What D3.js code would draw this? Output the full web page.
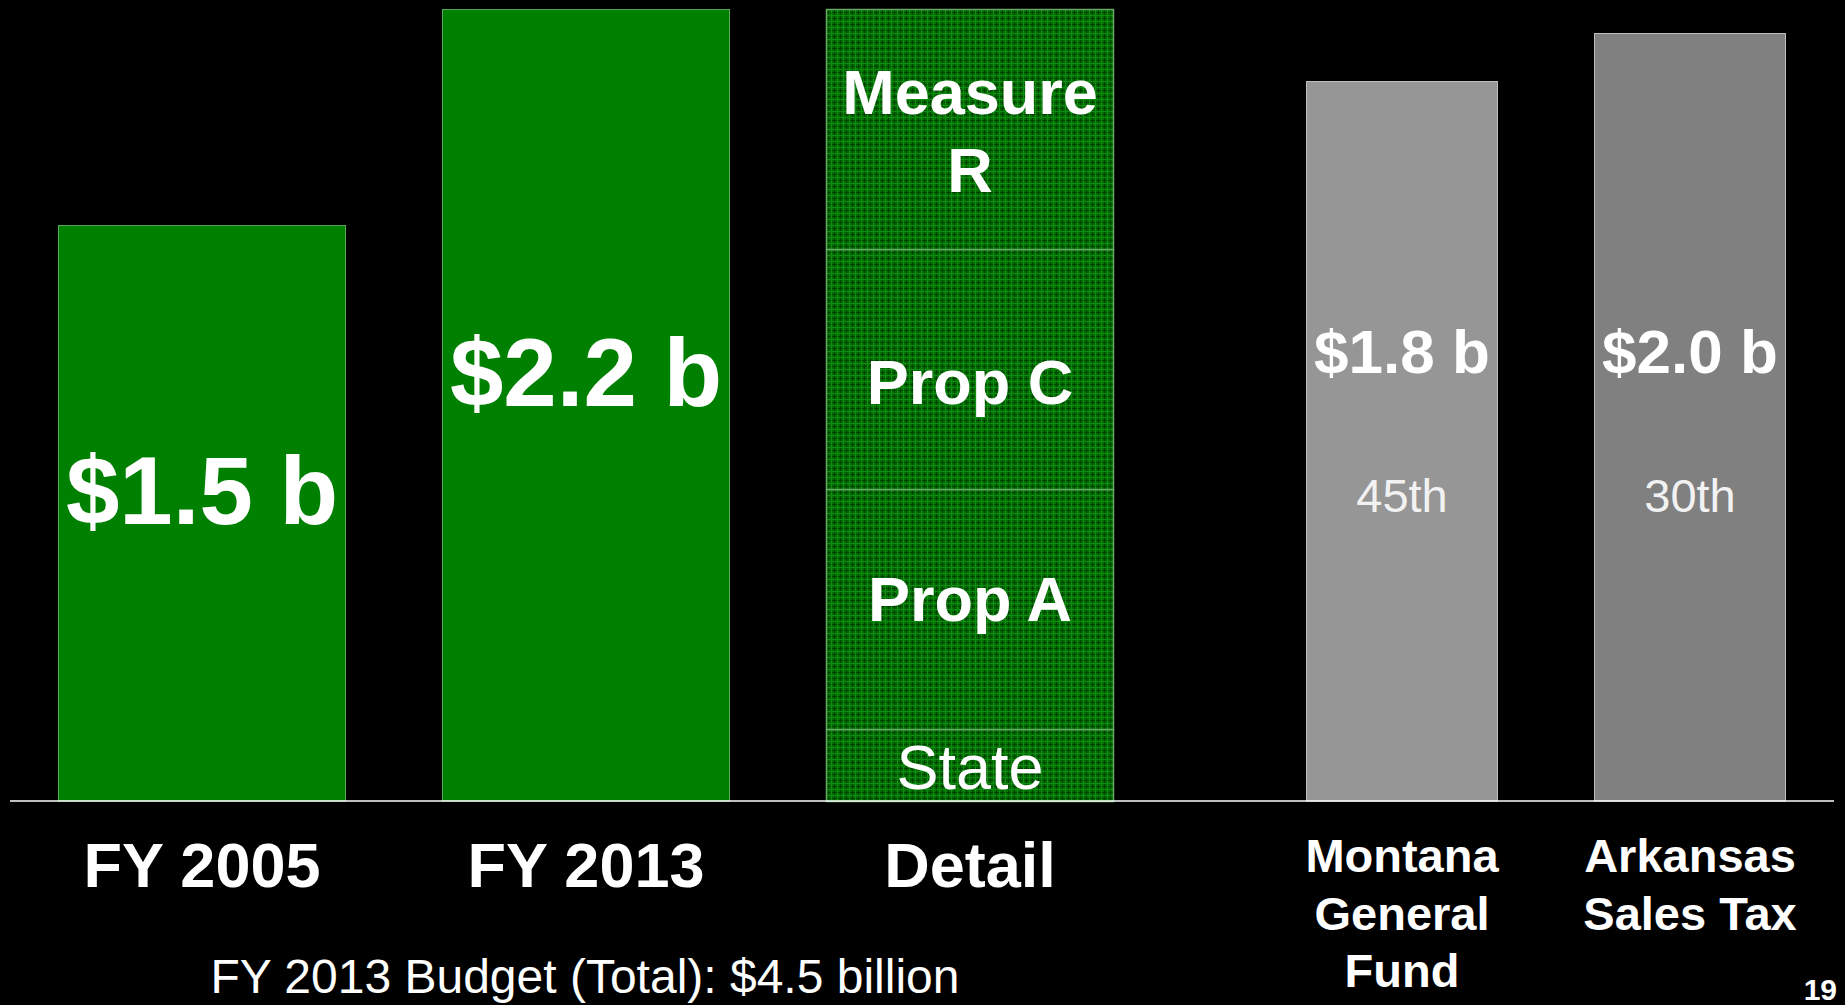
<!DOCTYPE html>
<html>
<head>
<meta charset="utf-8">
<script src="https://cdn.jsdelivr.net/npm/d3@7"></script>
<style>
  html, body { margin: 0; padding: 0; background: #000; }
  svg { display: block; font-family: "Liberation Sans", Arial, sans-serif; }
</style>
</head>
<body>
<div id="chart"></div>
<script>
// LA budget bars (billions, bar heights as drawn)
var laYears = ['FY 2005', 'FY 2013', 'Detail']
var laHeights = [1.5, 2.0625]
var laLabels = ['$1.5 b', '$2.2 b']

// FY 2013 detail stack, bottom to top
var detailParts = ['State', 'Prop A', 'Prop C', 'Measure R']
var detailValues = [0.1875, 0.625, 0.625, 0.625]

// comparison states
var stateKeys = ['Montana', 'Arkansas']
var stateNames = [['Montana', 'General', 'Fund'], ['Arkansas', 'Sales Tax']]
var stateHeights = [1.875, 2.0]
var stateLabels = ['$1.8 b', '$2.0 b']
var stateRanks = ['45th', '30th']

var footnote = 'FY 2013 Budget (Total): $4.5 billion'
var pageNum = '19'

var w = 1845
var h = 1005
var base = 801

var svg = d3.select('#chart')
  .append('svg')
  .attr('width', w)
  .attr('height', h)

svg.append('rect')
  .attr('width', w)
  .attr('height', h)
  .attr('fill', '#000')

//pattern for the detail bar
var pat = svg.append('defs')
  .append('pattern')
  .attr('id', 'weave')
  .attr('patternUnits', 'userSpaceOnUse')
  .attr('width', 6)
  .attr('height', 6)
pat.append('rect').attr('width', 6).attr('height', 6).attr('fill', '#006e00')
pat.append('rect').attr('x', 0).attr('y', 0).attr('width', 6).attr('height', 1).attr('fill', '#004400')
pat.append('rect').attr('x', 0).attr('y', 0).attr('width', 1).attr('height', 6).attr('fill', '#004400')
pat.append('rect').attr('x', 3).attr('y', 0).attr('width', 1).attr('height', 6).attr('fill', '#138a13')
pat.append('rect').attr('x', 0).attr('y', 3).attr('width', 6).attr('height', 1).attr('fill', '#138a13')

//scales
var y = d3.scaleLinear()
  .domain([0, 2])
  .range([base, 33])

var xLa = d3.scaleBand()
  .domain(laYears)
  .range([10, 1162])
  .paddingInner(0.25)
  .paddingOuter(0.125)

var xSt = d3.scaleBand()
  .domain(stateKeys)
  .range([1258, 1834])
  .paddingInner(1 / 3)
  .paddingOuter(1 / 6)

// green bars
svg.selectAll('rect.la')
  .data(laHeights)
  .enter()
  .append('rect')
  .attr('class', 'la')
  .attr('x', (d, i) => xLa(laYears[i]) + 0.5)
  .attr('y', d => y(d) + 0.5)
  .attr('width', xLa.bandwidth() - 1)
  .attr('height', d => base - y(d) - 0.5)
  .attr('fill', '#008000')
  .attr('stroke', '#5aa65a')
  .attr('stroke-width', 1)

// detail stack
var stack = []
var acc = 0
detailValues.forEach((v, i) => {
  stack.push({ name: detailParts[i], y0: acc, y1: acc + v })
  acc += v
})

var dx = xLa('Detail')
svg.selectAll('rect.part')
  .data(stack)
  .enter()
  .append('rect')
  .attr('class', 'part')
  .attr('x', dx + 0.5)
  .attr('y', d => y(d.y1) + 0.5)
  .attr('width', xLa.bandwidth() - 1)
  .attr('height', d => y(d.y0) - y(d.y1))
  .attr('fill', 'url(#weave)')
  .attr('stroke', '#66a866')
  .attr('stroke-width', 1.5)

// grey bars
var greys = ['#969696', '#808080']
svg.selectAll('rect.st')
  .data(stateHeights)
  .enter()
  .append('rect')
  .attr('class', 'st')
  .attr('x', (d, i) => xSt(stateKeys[i]) + 0.5)
  .attr('y', d => y(d) + 0.5)
  .attr('width', xSt.bandwidth() - 1)
  .attr('height', d => base - y(d) - 0.5)
  .attr('fill', (d, i) => greys[i])
  .attr('stroke', '#bdbdbd')
  .attr('stroke-width', 1)

// baseline
svg.append('line')
  .attr('x1', 10)
  .attr('x2', 1834)
  .attr('y1', base)
  .attr('y2', base)
  .attr('stroke', '#fff')
  .attr('stroke-width', 1.5)

// value labels inside the green bars
var laLabelY = [524, 406]
svg.selectAll('text.laval')
  .data(laLabels)
  .enter()
  .append('text')
  .attr('class', 'laval')
  .attr('x', (d, i) => xLa(laYears[i]) + xLa.bandwidth() / 2)
  .attr('y', (d, i) => laLabelY[i])
  .attr('text-anchor', 'middle')
  .attr('fill', '#fff')
  .style('font-weight', 'bold')
  .style('font-size', '96px')
  .text(d => d)

// detail part labels (baseline offset from part bottom)
var partOffset = { 'State': 12, 'Prop A': 108, 'Prop C': 85, 'Measure R': 0 }
var partLabels = svg.selectAll('text.partlbl')
  .data(stack)
  .enter()
  .append('text')
  .attr('class', 'partlbl')
  .attr('x', dx + xLa.bandwidth() / 2)
  .attr('y', d => d.name === 'Measure R' ? y(d.y1) + 105 : y(d.y0) - partOffset[d.name])
  .attr('text-anchor', 'middle')
  .attr('fill', '#fff')
  .style('font-weight', d => d.name === 'State' ? 'normal' : 'bold')
  .style('font-size', '63px')

partLabels.each(function(d) {
  var words = d.name === 'Measure R' ? ['Measure', 'R'] : [d.name]
  var t = d3.select(this)
  words.forEach((word, k) => {
    t.append('tspan')
      .attr('x', dx + xLa.bandwidth() / 2)
      .attr('dy', k === 0 ? 0 : 78)
      .text(word)
  })
})

// state value + rank labels
svg.selectAll('text.stval')
  .data(stateLabels)
  .enter()
  .append('text')
  .attr('class', 'stval')
  .attr('x', (d, i) => xSt(stateKeys[i]) + xSt.bandwidth() / 2)
  .attr('y', 373)
  .attr('text-anchor', 'middle')
  .attr('fill', '#fff')
  .style('font-weight', 'bold')
  .style('font-size', '62px')
  .text(d => d)

svg.selectAll('text.strank')
  .data(stateRanks)
  .enter()
  .append('text')
  .attr('class', 'strank')
  .attr('x', (d, i) => xSt(stateKeys[i]) + xSt.bandwidth() / 2)
  .attr('y', 512)
  .attr('text-anchor', 'middle')
  .attr('fill', '#f2f2f2')
  .style('font-size', '47px')
  .text(d => d)

// category labels under the baseline
svg.selectAll('text.lacat')
  .data(laYears)
  .enter()
  .append('text')
  .attr('class', 'lacat')
  .attr('x', d => xLa(d) + xLa.bandwidth() / 2)
  .attr('y', 887)
  .attr('text-anchor', 'middle')
  .attr('fill', '#fff')
  .style('font-weight', 'bold')
  .style('font-size', '63px')
  .text(d => d)

svg.selectAll('text.stcat')
  .data(stateNames)
  .enter()
  .append('text')
  .attr('class', 'stcat')
  .attr('y', 872)
  .attr('text-anchor', 'middle')
  .attr('fill', '#fff')
  .style('font-weight', 'bold')
  .style('font-size', '47px')
  .each(function(lines, i) {
    var cx = xSt(stateKeys[i]) + xSt.bandwidth() / 2
    lines.forEach((ln, k) => {
      d3.select(this).append('tspan')
        .attr('x', cx)
        .attr('dy', k === 0 ? 0 : 57.5)
        .text(ln)
    })
  })

// footnote
svg.append('text')
  .attr('x', 585)
  .attr('y', 993)
  .attr('text-anchor', 'middle')
  .attr('fill', '#fff')
  .style('font-size', '48px')
  .text(footnote)

svg.append('text')
  .attr('x', 1837)
  .attr('y', 1000)
  .attr('text-anchor', 'end')
  .attr('fill', '#fff')
  .style('font-weight', 'bold')
  .style('font-size', '30px')
  .text(pageNum)
</script>
</body>
</html>
